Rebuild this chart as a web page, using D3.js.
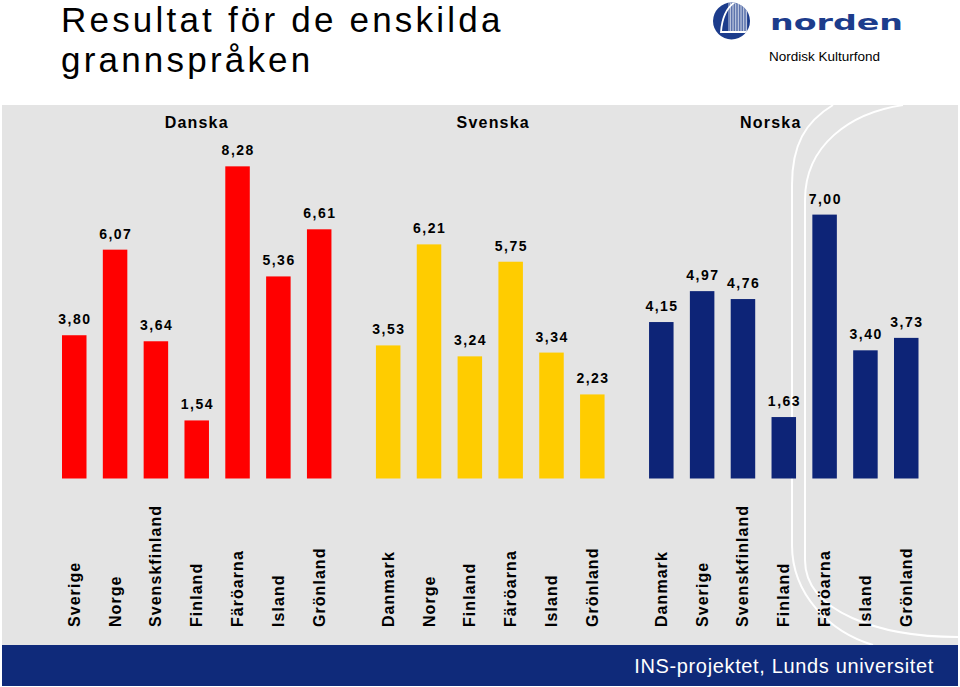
<!DOCTYPE html>
<html>
<head>
<meta charset="utf-8">
<script src="https://cdn.jsdelivr.net/npm/d3@7"></script>
<style>
  html, body { margin: 0; padding: 0; background: #ffffff; }
  svg { display: block; font-family: "Liberation Sans", Arial, Helvetica, sans-serif; }
</style>
</head>
<body>
<svg id="chart" width="960" height="687"></svg>
<script>
// ---------------- DATA ----------------
const groupNames = ["Danska", "Svenska", "Norska"];
const danskaCats = ["Sverige", "Norge", "Svenskfinland", "Finland", "Färöarna", "Island", "Grönland"];
const danskaVals = [3.80, 6.07, 3.64, 1.54, 8.28, 5.36, 6.61];
const svenskaCats = ["Danmark", "Norge", "Finland", "Färöarna", "Island", "Grönland"];
const svenskaVals = [3.53, 6.21, 3.24, 5.75, 3.34, 2.23];
const norskaCats = ["Danmark", "Sverige", "Svenskfinland", "Finland", "Färöarna", "Island", "Grönland"];
const norskaVals = [4.15, 4.97, 4.76, 1.63, 7.00, 3.40, 3.73];
const groupColors = ["#ff0000", "#ffcc00", "#0d2477"];
const titleLines = ["Resultat för de enskilda", "grannspråken"];
const footerText = "INS-projektet, Lunds universitet";

// ---------------- BUILD TABLE ----------------
const groups = [
  { name: groupNames[0], cats: danskaCats, vals: danskaVals, color: groupColors[0] },
  { name: groupNames[1], cats: svenskaCats, vals: svenskaVals, color: groupColors[1] },
  { name: groupNames[2], cats: norskaCats, vals: norskaVals, color: groupColors[2] }
];
const GAP = 0.69; // extra slot gap between groups
const rows = [];
let idx = 0;
groups.forEach((g, gi) => {
  g.cats.forEach((c, ci) => {
    rows.push({ group: gi, cat: c, val: g.vals[ci], color: g.color, slot: idx + gi * GAP });
    idx++;
  });
});

// ---------------- LAYOUT ----------------
const svg = d3.select("#chart");
const W = 960, H = 687;
const barW = 24.5;
const x = d3.scaleLinear().domain([0, 20.38]).range([62, 894]);
const y = d3.scaleLinear().domain([0, 9]).range([478.5, 139.2]);
const fmt = v => d3.format(".2f")(v).replace(".", ",");

// panel background
svg.append("rect").attr("x", 2).attr("y", 105).attr("width", 956).attr("height", 540).attr("fill", "#e4e4e4");

// decorative white curves
const deco = svg.append("g").attr("fill", "none").attr("stroke", "#ffffff").attr("stroke-width", 2);
deco.append("path").attr("d", "M833,105 C805,122 792,145 792,185 L792,545 C792,595 830,632 873,645");
deco.append("path").attr("d", "M903,105 C850,113 805,145 805,200 L805,560 C805,612 880,637 958,637");

// footer band
svg.append("rect").attr("x", 2).attr("y", 645).attr("width", 956).attr("height", 41).attr("fill", "#0f2a7a");
svg.append("text").attr("x", 934).attr("y", 673).attr("text-anchor", "end")
  .attr("font-size", 20).attr("letter-spacing", 0.65).attr("fill", "#ffffff").text(footerText);

// title
const title = svg.append("text").attr("font-size", 35).attr("letter-spacing", 3.2).attr("fill", "#000");
title.append("tspan").attr("x", 61).attr("y", 32).text(titleLines[0]);
title.append("tspan").attr("x", 61).attr("y", 72).text(titleLines[1]);

// logo
const logo = svg.append("g");
const cx = 731.5, cy = 21, r = 18.5;
logo.append("clipPath").attr("id", "lc").append("circle").attr("cx", cx).attr("cy", cy).attr("r", r);
logo.append("circle").attr("cx", cx).attr("cy", cy).attr("r", r).attr("fill", "#1c3c8c");
const lg = logo.append("g").attr("clip-path", "url(#lc)");
d3.range(0, 12).forEach(k => {
  const lx = 729 + k * 1.6;
  lg.append("line").attr("x1", lx).attr("x2", lx).attr("y1", 2 + k * 0.3).attr("y2", 32)
    .attr("stroke", "#dfe3ef").attr("stroke-width", 0.9);
});
lg.append("path").attr("d", "M735,2 C726,8 722,18 721,32 L752,32")
  .attr("fill", "none").attr("stroke", "#ffffff").attr("stroke-width", 1.8);
svg.append("text").attr("x", 770).attr("y", 30).attr("font-family", "DejaVu Sans, sans-serif")
  .attr("font-weight", "bold").attr("font-size", 22).attr("fill", "#1c3c8c")
  .attr("textLength", 133).attr("lengthAdjust", "spacingAndGlyphs").text("norden");
svg.append("text").attr("x", 769).attr("y", 61).attr("font-size", 13.5).attr("fill", "#000").text("Nordisk Kulturfond");

// group headers
const headerDx = [0, 3, -13];
groups.forEach((g, gi) => {
  const gr = rows.filter(d => d.group === gi);
  const c = (x(gr[0].slot) + x(gr[gr.length - 1].slot) + barW) / 2 + headerDx[gi];
  svg.append("text").attr("x", c).attr("y", 128).attr("text-anchor", "middle")
    .attr("font-size", 16).attr("font-weight", "bold").attr("letter-spacing", 1.2)
    .attr("fill", "#000").text(g.name);
});

// bars
svg.append("g").selectAll("rect").data(rows).join("rect")
  .attr("x", d => x(d.slot)).attr("width", barW)
  .attr("y", d => y(d.val)).attr("height", d => y(0) - y(d.val))
  .attr("fill", d => d.color);

// value labels
svg.append("g").selectAll("text").data(rows).join("text")
  .attr("x", d => x(d.slot) + barW / 2 + 0.7).attr("y", d => y(d.val) - 11)
  .attr("text-anchor", "middle").attr("font-size", 14).attr("font-weight", "bold")
  .attr("letter-spacing", 1.5).attr("fill", "#000").text(d => fmt(d.val));

// category labels (rotated)
svg.append("g").selectAll("text").data(rows).join("text")
  .attr("transform", d => `translate(${x(d.slot) + barW / 2 + 5.5},627) rotate(-90)`)
  .attr("text-anchor", "start").attr("font-size", 16).attr("font-weight", "bold")
  .attr("letter-spacing", 1.05).attr("fill", "#000").text(d => d.cat);
</script>
</body>
</html>
